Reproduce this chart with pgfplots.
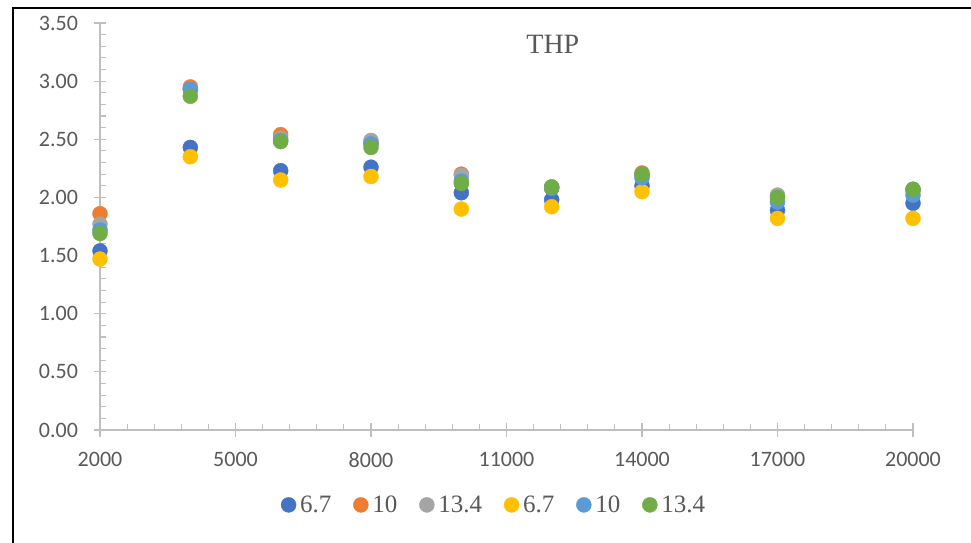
\documentclass[border=0pt]{standalone}
\usepackage{pgfplots}
\pgfplotsset{compat=1.18}
\usepackage{fontspec}
\setmainfont{Liberation Serif}
\newfontfamily\calibri{Carlito}
\definecolor{c1}{HTML}{4472C4}
\definecolor{c2}{HTML}{ED7D31}
\definecolor{c3}{HTML}{A5A5A5}
\definecolor{c4}{HTML}{FFC000}
\definecolor{c5}{HTML}{5B9BD5}
\definecolor{c6}{HTML}{70AD47}
\definecolor{txt}{HTML}{595959}
\definecolor{axc}{HTML}{BFBFBF}
\begin{document}
\begin{tikzpicture}
\useasboundingbox (0,0) rectangle (971bp,543bp);
\draw[black, line width=1.2bp] (13bp,0) -- (13bp,535bp) -- (971bp,535bp);
\begin{axis}[
  at={(100bp,113bp)}, anchor=south west,
  scale only axis, width=813bp, height=407bp,
  xmin=2000, xmax=20000, ymin=0, ymax=3.5,
  axis x line=bottom, axis y line=left,
  axis line style={axc, line width=1.3bp, -},
  xtick={2000,5000,8000,11000,14000,17000,20000},
  ytick={0,0.5,1,1.5,2,2.5,3,3.5},
  scaled x ticks=false, scaled y ticks=false,
  minor x tick num=4, minor y tick num=4,
  tick align=center,
  major tick length=13bp, minor tick length=6bp,
  tick style={axc, line width=1.1bp},
  minor x tick style={yshift=3bp},
  minor y tick style={xshift=3bp},
  /pgf/number format/assume math mode=true,
  x tick label style={font=\calibri\fontsize{22bp}{24bp}\selectfont, text=txt, /pgf/number format/set thousands separator={}, /pgf/number format/fixed, /pgf/number format/precision=0, yshift=-12bp},
  y tick label style={font=\calibri\fontsize{22bp}{24bp}\selectfont, text=txt, /pgf/number format/fixed, /pgf/number format/fixed zerofill, /pgf/number format/precision=2, xshift=-12bp},
  legend columns=6,
  legend style={at={(0.486,-0.184)}, anchor=center, draw=none, fill=none,
    font=\fontsize{25bp}{27bp}\selectfont, text=txt,
    /tikz/every even column/.append style={column sep=18bp},
    nodes={inner xsep=4bp}},
  legend image code/.code={\draw[#1] plot coordinates {(0cm,0cm)};},
  every axis plot/.append style={only marks, mark=*, mark size=7.5bp},
]
\addplot[c1, mark options={fill=c1, draw=c1}] coordinates {(2000,1.54)(4000,2.43)(6000,2.23)(8000,2.26)(10000,2.04)(12000,1.98)(14000,2.10)(17000,1.89)(20000,1.95)};
\addlegendentry{6.7}
\addplot[c2, mark options={fill=c2, draw=c2}] coordinates {(2000,1.86)(4000,2.95)(6000,2.54)(8000,2.47)(10000,2.20)(12000,2.08)(14000,2.21)(17000,2.01)(20000,2.06)};
\addlegendentry{10}
\addplot[c3, mark options={fill=c3, draw=c3}] coordinates {(2000,1.77)(4000,2.93)(6000,2.51)(8000,2.49)(10000,2.19)(12000,2.09)(14000,2.19)(17000,2.02)(20000,2.07)};
\addlegendentry{13.4}
\addplot[c4, mark options={fill=c4, draw=c4}] coordinates {(2000,1.47)(4000,2.35)(6000,2.15)(8000,2.18)(10000,1.90)(12000,1.92)(14000,2.05)(17000,1.82)(20000,1.82)};
\addlegendentry{6.7}
\addplot[c5, mark options={fill=c5, draw=c5}] coordinates {(2000,1.72)(4000,2.93)(6000,2.49)(8000,2.46)(10000,2.14)(12000,2.08)(14000,2.17)(17000,1.96)(20000,2.02)};
\addlegendentry{10}
\addplot[c6, mark options={fill=c6, draw=c6}] coordinates {(2000,1.69)(4000,2.87)(6000,2.48)(8000,2.43)(10000,2.12)(12000,2.09)(14000,2.20)(17000,2.00)(20000,2.07)};
\addlegendentry{13.4}
\node[font=\fontsize{28bp}{30bp}\selectfont, text=txt] at (axis description cs:0.557,0.948) {THP};
\end{axis}
\end{tikzpicture}
\end{document}
